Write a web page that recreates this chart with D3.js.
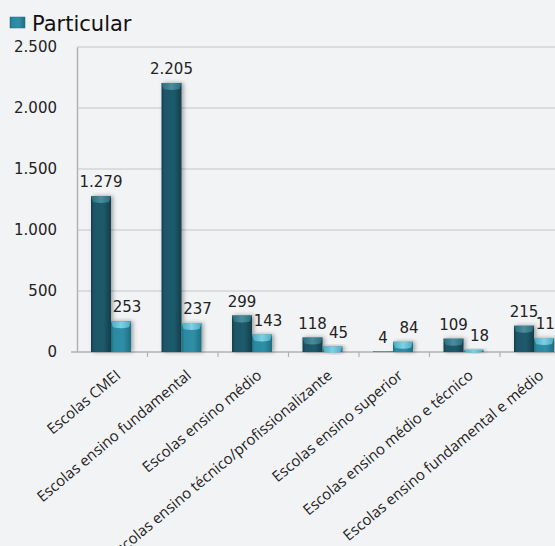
<!DOCTYPE html>
<html><head><meta charset="utf-8">
<script src="https://cdn.jsdelivr.net/npm/d3@7"></script>
<style>
html,body{margin:0;padding:0;background:#f2f3f5;}
svg{display:block;}
</style></head>
<body>
<svg id="chart" width="555" height="546"></svg>
<script>
const categories = ["Escolas CMEI","Escolas ensino fundamental","Escolas ensino médio","Escolas ensino técnico/profissionalizante","Escolas ensino superior","Escolas ensino médio e técnico","Escolas ensino fundamental e médio"];
const publica = [1279, 2205, 299, 118, 4, 109, 215];
const particular = [253, 237, 143, 45, 84, 18, 115];
const yTicks = [0, 500, 1000, 1500, 2000, 2500];
const legendLabel = "Particular";

(function () {
const fmt = v => d3.format(",")(v).replace(/,/g, ".");
const svg = d3.select("#chart");
const W = 555, H = 546;
const mLeft = 77, mTop = 47, mBottom = 352;
const catW = 70.5;

const x0 = d3.scaleBand().domain(categories).range([mLeft, mLeft + catW * categories.length]).padding(0);
const x1 = d3.scaleBand().domain(["pub","par"]).range([14, 54]).padding(0);
const y = d3.scaleLinear().domain([0, 2500]).range([mBottom, mTop]);

const defs = svg.append("defs");
function grad(id, stops) {
  const g = defs.append("linearGradient").attr("id", id).attr("x1","0").attr("x2","1").attr("y1","0").attr("y2","0");
  stops.forEach(s => g.append("stop").attr("offset", s[0]).attr("stop-color", s[1]));
}
grad("gDark", [[0,"#143f4b"],[0.15,"#1d5667"],[0.6,"#1f5b6b"],[1,"#143e4a"]]);
grad("gLight", [[0,"#1f6f84"],[0.15,"#2b8aa2"],[0.6,"#2e8fa7"],[1,"#1f6e82"]]);
grad("cDark", [[0,"#2a6b7b"],[0.5,"#4a8d9c"],[1,"#2a6b7b"]]);
grad("cLight", [[0,"#4aa9c0"],[0.5,"#7fd0e3"],[1,"#4aa9c0"]]);
const f = defs.append("filter").attr("id","sh").attr("x","-30%").attr("y","-30%").attr("width","170%").attr("height","160%");
f.append("feDropShadow").attr("dx",2).attr("dy",0).attr("stdDeviation",2).attr("flood-color","#000").attr("flood-opacity",0.35);

// grid
svg.append("g").selectAll("line").data(yTicks.filter(d => d > 0)).join("line")
  .attr("x1", mLeft).attr("x2", W).attr("y1", d => y(d)).attr("y2", d => y(d))
  .attr("stroke", "#c3c5c8").attr("stroke-width", 1.2);

// y axis
const yAxis = d3.axisLeft(y).tickValues(yTicks).tickFormat(fmt).tickSize(0).tickPadding(20);
const ya = svg.append("g").attr("transform", `translate(${mLeft},0)`).call(yAxis);
ya.select(".domain").attr("stroke", "#b0b2b5").attr("stroke-width", 1.5);
ya.selectAll("text").attr("font-family","DejaVu Sans").attr("font-size", 15).attr("fill","#222");

// x axis
const xa = svg.append("g").attr("transform", `translate(0,${mBottom})`);
xa.append("line").attr("x1", mLeft - 6).attr("x2", W).attr("y1", 0).attr("y2", 0).attr("stroke","#b0b2b5").attr("stroke-width",1.5);
xa.selectAll("line.tk").data(categories.slice(1)).join("line").attr("class","tk")
  .attr("x1", d => x0(d)).attr("x2", d => x0(d)).attr("y1", 0).attr("y2", 5).attr("stroke","#b0b2b5").attr("stroke-width",1.2);
xa.selectAll("text").data(categories).join("text")
  .attr("transform", d => `translate(${x0(d) + catW/2 + 6},${21}) rotate(-40)`)
  .attr("text-anchor","end").attr("dy","0.35em")
  .attr("font-family","Open Sans").attr("font-size", 15).attr("fill","#222")
  .text(d => d);

// bars
function drawBars(vals, key, body, cap, dx) {
  const g = svg.append("g");
  const bw = x1.bandwidth();
  vals.forEach((v, i) => {
    const bx = x0(categories[i]) + x1(key);
    const by = y(v);
    const h = mBottom - by;
    const bg = g.append("g").attr("filter","url(#sh)");
    bg.append("rect").attr("x", bx).attr("y", by).attr("width", bw).attr("height", h).attr("fill", `url(#${body})`);
    if (h > 2) {
      const ch = Math.min(6, h);
      bg.append("path").attr("d", `M${bx},${by} L${bx+bw},${by} L${bx+bw-2},${by+ch} Q${bx+bw/2},${by+ch+2} ${bx+2},${by+ch} Z`).attr("fill", `url(#${cap})`);
    }
  });
  g.selectAll("text").data(vals).join("text")
    .attr("x", (v, i) => x0(categories[i]) + x1(key) + bw/2 + dx)
    .attr("y", v => y(v) - 9)
    .attr("text-anchor","middle").attr("font-family","DejaVu Sans").attr("font-size", 15).attr("fill","#222")
    .text(v => fmt(v));
}
drawBars(publica, "pub", "gDark", "cDark", 0);
drawBars(particular, "par", "gLight", "cLight", 6);

// legend
const lg = svg.append("g");
lg.append("rect").attr("x", 10).attr("y", 17).attr("width", 15).attr("height", 11).attr("fill","url(#gLight)").attr("stroke","#1f6e82").attr("stroke-width",0.5);
lg.append("text").attr("x", 32).attr("y", 31).attr("font-family","DejaVu Sans").attr("font-size", 21).attr("fill","#111").text(legendLabel);
})();
</script>
</body></html>
